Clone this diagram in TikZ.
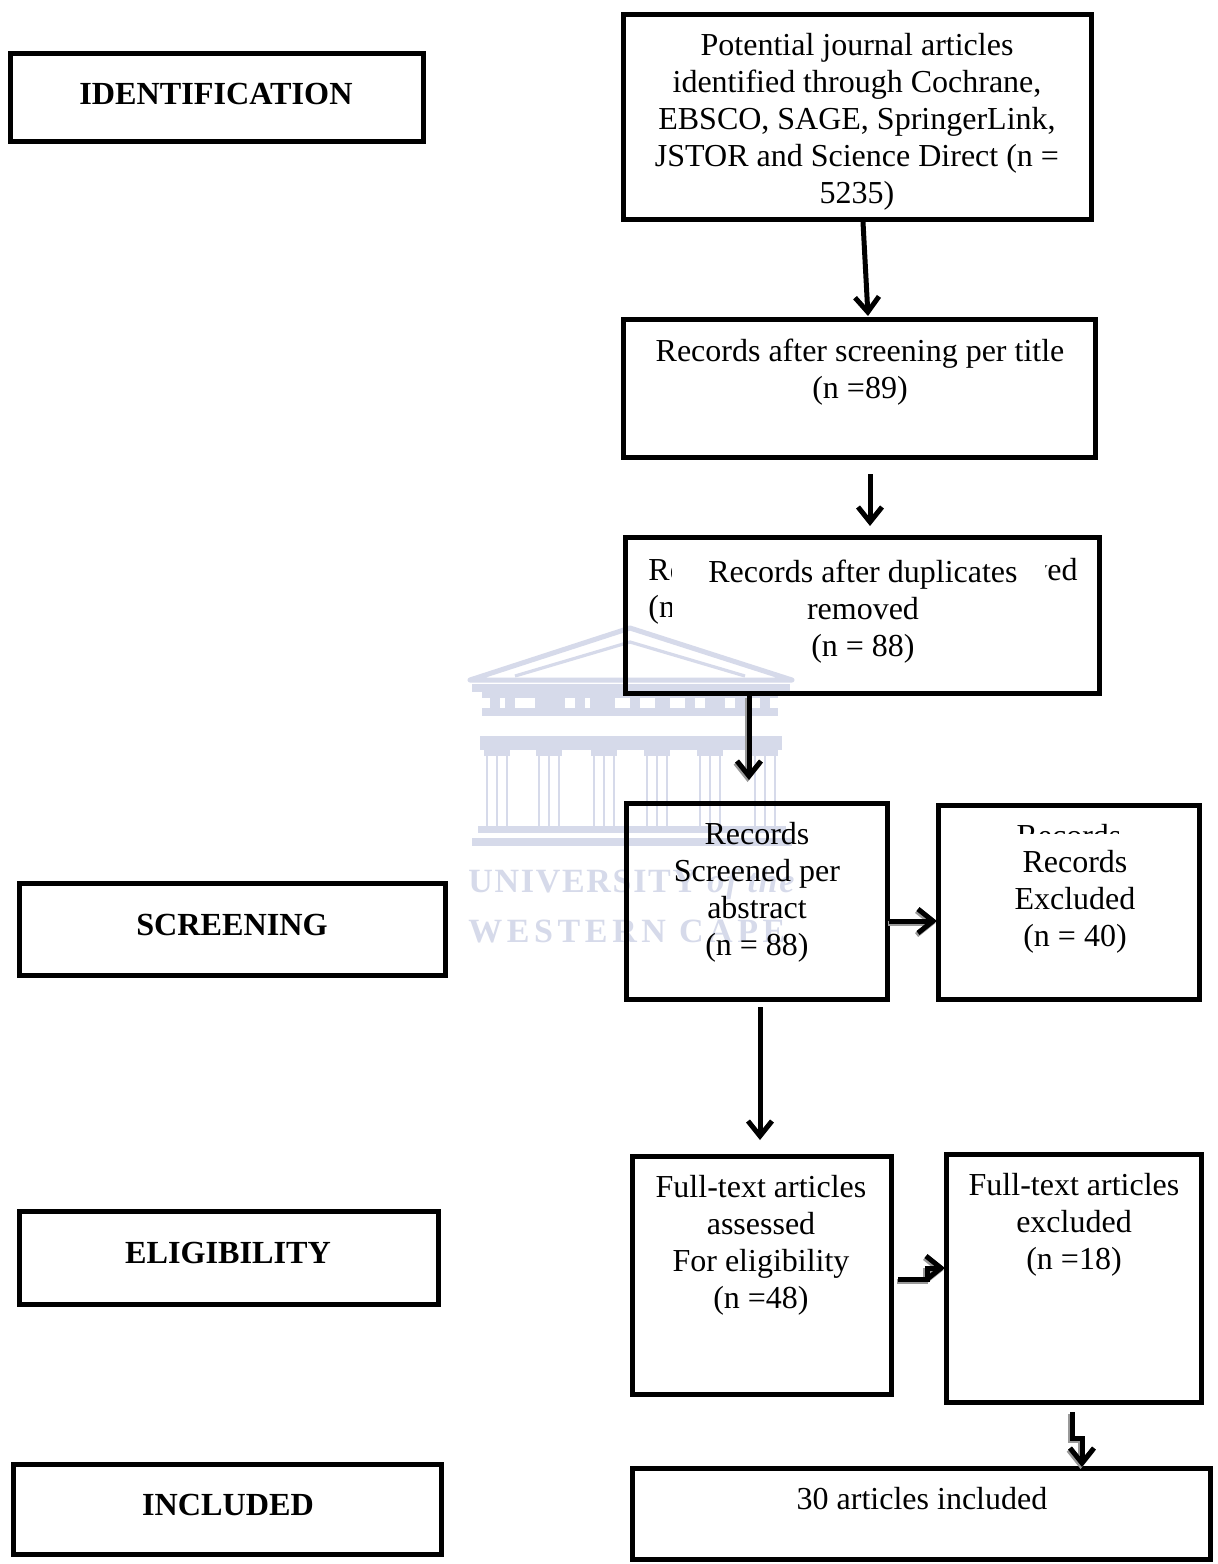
\documentclass[tikz,border=0pt]{standalone}
\usepackage{fontspec}
\setmainfont{Liberation Serif}
\usetikzlibrary{arrows.meta}
\definecolor{wm}{HTML}{D6DAEA}
\tikzset{
  x=0.5pt,y=-0.5pt,
  flowbox/.style={draw=black,line width=2.5pt,line join=miter,outer sep=0pt},
  boxtext/.style={align=center,font=\fontsize{16}{18.45}\selectfont,inner sep=0pt,anchor=north},
  masktext/.style={boxtext,fill=white},
  stagetext/.style={font=\fontsize{16.1}{18}\selectfont\bfseries,inner sep=0pt},
  flow/.style={draw=black,line width=2.5pt,-{Straight Barb[length=7.5pt,width=12pt,line width=2.5pt]}},
  flowshade/.style={draw=black!40,line width=2.5pt,-{Straight Barb[length=7.5pt,width=12pt,line width=2.5pt]},transform canvas={shift={(-0.7pt,-1pt)}}},
  wmline/.style={draw=wm,line width=1.6pt},
  wmfill/.style={fill=wm,draw=none},
  wmtext/.style={text=wm,font=\fontsize{17}{18}\selectfont\bfseries,inner sep=0pt}
}
\newcommand{\bx}[5]{\node[flowbox,minimum width=#4*0.5pt-#2*0.5pt-1.5pt,minimum height=#5*0.5pt-#3*0.5pt-1.5pt,inner sep=0pt,anchor=north west] (#1) at (#2+1.5,#3+1.5) {};}
\begin{document}
\begin{tikzpicture}
\useasboundingbox (0,0) rectangle (1217,1564);
\fill[white] (0,0) rectangle (1217,1564);
% watermark
\draw[wmline,line width=2.5pt,line join=round] (470,680) -- (630,628) -- (792,680) -- cycle;
\draw[wmline] (515,676) -- (630,642) -- (745,676);
\fill[wmfill] (472,684) rectangle (790,692);
\fill[wmfill] (482,692) rectangle (778,698);
\foreach \a/\b in {490/500,505/515,535/565,575/585,590/615,630/640,655/670,685/695,705/725,735/745,760/770}
  \fill[wmfill] (\a,698) rectangle (\b,708);
\fill[wmfill] (482,708) rectangle (778,716);
\fill[wmfill] (480,736) rectangle (782,750);
\foreach \c in {497,549,604,657,710,765} {
  \fill[wmfill] (\c-13,750) rectangle (\c+13,756);
  \draw[wmline,line width=1.2pt] (\c-10,756) -- (\c-10,826) (\c,756) -- (\c,826) (\c+10,756) -- (\c+10,826);
}
\fill[wmfill] (478,826) rectangle (786,833);
\fill[wmfill] (472,838) rectangle (792,846);
\node[wmtext,anchor=west] (wm1) at (468,884) {\addfontfeature{LetterSpace=5}UNIVERSITY \textit{of the}};
\node[wmtext,anchor=west] (wm2) at (468,931) {\addfontfeature{LetterSpace=13.5}WESTERN CAPE};
% stage boxes
\bx{stage1}{9}{52}{425}{143}
\bx{stage2}{18}{882}{447}{977}
\bx{stage3}{18}{1210}{440}{1306}
\bx{stage4}{12}{1463}{443}{1556}
\node[stagetext] at (216,94) {IDENTIFICATION};
\node[stagetext] at (232,925) {SCREENING};
\node[stagetext] at (228,1253) {ELIGIBILITY};
\node[stagetext] at (228,1505) {INCLUDED};
% flow boxes
\bx{top}{622}{13}{1093}{221}
\bx{title}{622}{318}{1097}{459}
\bx{dup}{624}{536}{1101}{695}
\bx{abs}{625}{802}{889}{1001}
\bx{exc}{937}{804}{1201}{1001}
\bx{full}{631}{1155}{893}{1396}
\bx{fullx}{945}{1153}{1203}{1404}
\bx{incl}{631}{1467}{1212}{1561}
% box texts
\node[boxtext] at (857,33) {Potential journal articles\\identified through Cochrane,\\EBSCO, SAGE, SpringerLink,\\JSTOR and Science Direct (n =\\5235)};
\node[boxtext] at (860,339) {Records after screening per title\\(n =89)};
% partly covered texts
\node[boxtext,anchor=north west,align=left] at (648,558) {Records after duplicates removed\\(n = 88)};
\node[masktext,minimum width=186.5pt,minimum height=44pt] at (858.5,549) {};
\node[boxtext] at (863,560) {Records after duplicates\\removed\\(n = 88)};
\node[boxtext] at (757,822) {Records\\Screened per\\abstract\\(n = 88)};
\node[boxtext] at (1069,824) {Records};
\node[fill=white,inner sep=0pt,minimum width=62pt,minimum height=15pt,anchor=north] at (1069,834) {};
\node[boxtext] at (1075,850) {Records\\Excluded\\(n = 40)};
\node[boxtext] at (761,1175) {Full-text articles\\assessed\\For eligibility\\(n =48)};
\node[boxtext] at (1074,1173) {Full-text articles\\excluded\\(n =18)};
\node[boxtext] at (922,1487) {30 articles included};
% connector free ends
\coordinate (a1) at (863,222);
\coordinate (a2) at (868,316);
\coordinate (b1) at (870,474);
\coordinate (b2) at (870,526);
\coordinate (c1) at (749,696);
\coordinate (c2) at (749,780);
\coordinate (d1) at (889,921);
\coordinate (d2) at (937,921);
\coordinate (e1) at (760,1007);
\coordinate (e2) at (760,1140);
\coordinate (f1) at (898,1279);
\coordinate (f2) at (927,1279);
\coordinate (f3) at (927,1268);
\coordinate (f4) at (945,1268);
\coordinate (g1) at (1072,1412);
\coordinate (g2) at (1072,1438);
\coordinate (g3) at (1082,1438);
\coordinate (g4) at (1082,1467);
\draw[flowshade] (c1) -- (c2);
\draw[flowshade] (d1) -- (d2);
\draw[flowshade,line join=miter] (f1) -- (f2) -- (f3) -- (f4);
\draw[flowshade,line join=miter] (g1) -- (g2) -- (g3) -- (g4);
\draw[flow] (a1) -- (a2);
\draw[flow] (b1) -- (b2);
\draw[flow] (c1) -- (c2);
\draw[flow] (d1) -- (d2);
\draw[flow] (e1) -- (e2);
\draw[flow,line join=miter] (f1) -- (f2) -- (f3) -- (f4);
\draw[flow,line join=miter] (g1) -- (g2) -- (g3) -- (g4);
\end{tikzpicture}
\end{document}
